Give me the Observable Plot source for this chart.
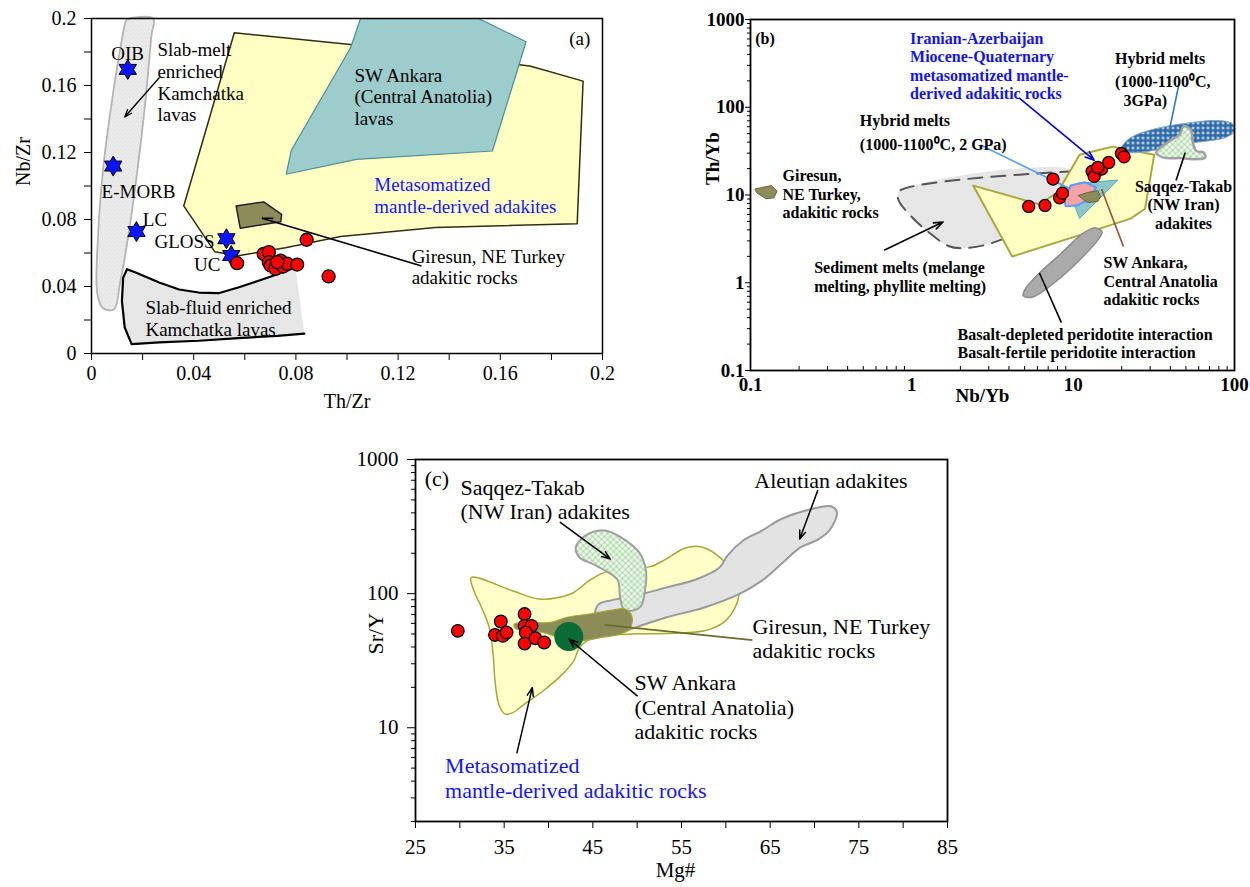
<!DOCTYPE html>
<html><head><meta charset="utf-8">
<script src="https://cdn.jsdelivr.net/npm/d3@7"></script>
<script src="https://cdn.jsdelivr.net/npm/@observablehq/plot@0.6"></script>
<style>
body{margin:0;background:#fff;}
#wrap{position:relative;width:1250px;height:887px;overflow:hidden;background:#fff;}
.panel{position:absolute;}
.panel svg{max-width:none !important;}
.panel svg text{font-family:'Liberation Serif','Times New Roman',Times,serif;}
</style></head>
<body><div id="wrap"></div>
<script>
// ================= Panel (a): Nb/Zr vs Th/Zr =================
const aXTicks = [0,0.02,0.04,0.06,0.08,0.1,0.12,0.14,0.16,0.18,0.2];
const aXTickLabels = ["0","","0.04","","0.08","","0.12","","0.16","","0.2"];
const aYTicks = [0,0.02,0.04,0.06,0.08,0.1,0.12,0.14,0.16,0.18,0.2];
const aYTickLabels = ["0","","0.04","","0.08","","0.12","","0.16","","0.2"];

const aSlabMeltX = [0.0139,0.0242,0.0235,0.0211,0.0181,0.0145,0.0111,0.0088,0.0046,0.0023,0.0026,0.0046,0.0080,0.0111,0.0134];
const aSlabMeltY = [0.1994,0.2,0.1905,0.1507,0.1109,0.0712,0.0414,0.0264,0.0270,0.0354,0.0712,0.1109,0.1507,0.1805,0.1984];
const aSlabFluidX = [0.0798,0.0728,0.0651,0.0574,0.0497,0.0420,0.0343,0.0265,0.0173,0.0139,0.0124,0.0119,0.0130,0.0157,0.0265,0.0420,0.0574,0.0728,0.0833];
const aSlabFluidY = [0.0513,0.0473,0.0433,0.0394,0.0360,0.0364,0.0382,0.0424,0.0483,0.0503,0.0453,0.0314,0.0155,0.0056,0.0066,0.0076,0.0092,0.0105,0.0119];
const aMetaX = [0.0559,0.1014,0.1716,0.1924,0.1901,0.1346,0.0975,0.0759,0.0574,0.0482,0.0361];
const aMetaY = [0.1915,0.1845,0.1716,0.1626,0.0775,0.0752,0.0698,0.0632,0.0583,0.0608,0.0881];
const aAnkaraX = [0.1053,0.1515,0.1701,0.1569,0.1037,0.0762,0.0782,0.1014];
const aAnkaraY = [0.2,0.2,0.1861,0.1209,0.1159,0.1070,0.1213,0.1825];
const aGiresunX = [0.0566,0.0674,0.0744,0.0741,0.0582];
const aGiresunY = [0.0881,0.0905,0.0831,0.0787,0.0748];
const aStarNames = ["OIB","E-MORB","LC","GLOSS","UC"];
const aStarX = [0.0142,0.0085,0.0176,0.0528,0.0547];
const aStarY = [0.1696,0.1119,0.0728,0.0685,0.0585];
const aSampleX = [0.0570,0.0674,0.0694,0.0694,0.0701,0.0720,0.0740,0.0750,0.0766,0.0805,0.0727,0.0842,0.0928];
const aSampleY = [0.0539,0.0595,0.0605,0.0545,0.0525,0.0506,0.0555,0.0519,0.0536,0.0531,0.0545,0.0679,0.0460];
const aLeaders = [{x1:0.0667,y1:0.0807,x2:0.1292,y2:0.0523},{x1:0.0667,y1:0.0807,x2:0.0712,y2:0.0807}];
const aArrows = [{x1:0.0265,y1:0.1646,x2:0.0130,y2:0.1412}];
const aNotes = [
 {t:"OIB", x:0.0141, y:0.1795, anchor:"middle"},
 {t:"Slab-melt\nenriched\nKamchatka\nlavas", x:0.0258, y:0.1621, anchor:"start"},
 {t:"E-MORB", x:0.0184, y:0.0970, anchor:"middle"},
 {t:"LC", x:0.0201, y:0.0801, anchor:"start"},
 {t:"GLOSS", x:0.0482, y:0.0672, anchor:"end"},
 {t:"UC", x:0.0505, y:0.0533, anchor:"end"},
 {t:"Slab-fluid enriched\nKamchatka lavas", x:0.0211, y:0.0210, anchor:"start"},
 {t:"SW Ankara\n(Central Anatolia)\nlavas", x:0.1029, y:0.1535, anchor:"start"},
 {t:"Metasomatized\nmantle-derived adakites", x:0.1107, y:0.0945, anchor:"start", color:"#1414ff"},
 {t:"Giresun, NE Turkey\nadakitic rocks", x:0.1253, y:0.0520, anchor:"start"},
 {t:"(a)", x:0.1870, y:0.1881, anchor:"start"}
];

// ================= Panel (b): Th/Yb vs Nb/Yb =================
const bXTicks = [0.1,1,10,100];
const bYTicks = [0.1,1,10,100,1000];
const bGirLeftX = [0.107,0.135,0.146,0.140,0.125,0.110];
const bGirLeftY = [11.74,12.80,11.05,9.29,9.05,10.49];
const bSedX = [0.835,10.14,8.89,8.02,3.87,2.835,2.02,1.685,1.30,1.0,0.826];
const bSedY = [11.05,18.6,9.46,6.13,3.29,2.69,2.47,2.62,3.65,5.62,8.82];
const bSedEdgeX = [10.14,0.835,0.826,1.0,1.30,1.685,2.02,2.835,3.87,8.02];
const bSedEdgeY = [18.6,11.05,8.82,5.62,3.65,2.62,2.47,2.69,3.29,6.13];
const bMetaX = [2.40,6.18,8.02,10.96,17.5,31.8,27.9,22.7,10.96,4.19];
const bMetaY = [12.8,7.81,10.76,28.7,35.6,28.7,6.98,5.38,3.49,1.99];
const bHybridX = [19.93,22.7,31.0,52.2,79.1,97.3,100,87.7,67.7,47.0,34.4,25.2,20.5];
const bHybridY = [34.7,45.0,55.8,66.4,70.6,64.7,53.5,45.0,41.2,37.8,33.2,30.5,31.3];
const bSaqX = [32.7,38.2,45.8,48.3,53.5,55.0,57.9,64.3,65.9,57.9,47.0,36.2];
const bSaqY = [30.5,39.5,49.0,60.9,55.8,41.2,31.8,30.5,26.7,25.6,26.3,26.7];
const bBasaltX = [5.02,4.90,5.57,7.61,10.96,14.2,15.1,13.8,11.5,8.45,6.18];
const bBasaltY = [0.836,0.715,0.684,0.993,1.82,3.06,3.80,4.22,3.65,2.17,1.29];
const bAnkX = [10.7,18.9,10.96,10.1];
const bAnkY = [13.6,14.8,5.4,7.94];
const bPinkX = [8.81,9.62,11.8,13.8,13.1,10.7,9.0];
const bPinkY = [8.81,12.8,14.0,12.3,9.46,7.62,7.42];
const bGirX = [10.8,12.3,14.2,14.8,14.2,12.3];
const bGirY = [9.87,10.7,11.2,9.6,8.43,8.22];
const bSampleX = [5.30,6.69,7.50,8.24,8.59,13.1,13.5,15.0,16.6,19.9,20.7,14.2];
const bSampleY = [7.41,7.60,15.2,9.29,10.5,18.6,16.3,19.7,23.5,29.7,27.2,20.6];
const bLinks = [
 {x1:2.66,y1:37.2,x2:9.62,y2:11.7,c:"#5a9cff"},
 {x1:45.8,y1:205,x2:39.2,y2:51.2,c:"#3a78b5"},
 {x1:43.4,y1:14.6,x2:49.5,y2:30.5,c:"black"},
 {x1:20.5,y1:2.58,x2:15.0,y2:11.7,c:"#a0522d"},
 {x1:8.45,y1:0.351,x2:6.18,y2:1.29,c:"black"}
];
const bArrows = [
 {x1:4.64,y1:127,x2:13.5,y2:24.9,c:"#0000dd"},
 {x1:0.678,y1:2.36,x2:1.56,y2:4.93,c:"black"}
];
const bNotes = [
 {t:"(b)", x:0.107, y:615, anchor:"start"},
 {t:"Iranian-Azerbaijan\nMiocene-Quaternary\nmetasomatized mantle-\nderived adakitic rocks", x:0.975, y:297, anchor:"start", color:"#1414ee"},
 {t:"Hybrid melts", x:18.2, y:360, anchor:"start"},
 {t:"(1000-1100\u2070C,", x:18.2, y:196, anchor:"start"},
 {t:"3GPa)", x:20.5, y:120, anchor:"start"},
 {t:"Hybrid melts", x:0.476, y:71.8, anchor:"start"},
 {t:"(1000-1100\u2070C, 2 GPa)", x:0.476, y:38.5, anchor:"start"},
 {t:"Giresun,\nNE Turkey,\nadakitic rocks", x:0.158, y:10.3, anchor:"start"},
 {t:"Sediment melts (melange\nmelting, phyllite melting)", x:0.248, y:1.18, anchor:"start"},
 {t:"SW Ankara,\nCentral Anatolia\nadakitic rocks", x:15.4, y:1.05, anchor:"start"},
 {t:"Saqqez-Takab\n(NW Iran)\nadakites", x:48.3, y:7.78, anchor:"middle"},
 {t:"Basalt-depleted peridotite interaction\nBasalt-fertile peridotite interaction", x:1.92, y:0.206, anchor:"start"}
];

// ================= Panel (c): Sr/Y vs Mg# =================
const cXTicks = [25,30,35,40,45,50,55,60,65,70,75,80,85];
const cXTickLabels = ["25","","35","","45","","55","","65","","75","","85"];
const cYTicks = [10,100,1000];
const cMetaX = [31.28,35.92,38.95,41.12,42.85,44.58,46.32,48.92,51.52,53.25,55.42,57.15,59.10,60.83,61.48,61.05,59.75,57.58,53.25,48.92,45.02,43.50,42.85,41.55,39.38,37.22,35.92,35.05,34.40,33.97,33.75,33.32,32.45,31.59];
const cMetaY = [132,105,91,93.6,102,125,144,157,159,181,219,224,192,140,102,78.9,61.0,52.8,50.4,49.8,47.0,39.6,31.5,25.0,18.8,14.9,12.9,12.7,14.9,22.3,35.3,55.8,78.9,105];
const cAleutX = [45.23,45.67,47.18,49.78,53.25,56.72,59.32,60.18,61.92,64.08,66.25,69.71,71.88,72.53,71.66,70.15,68.41,66.25,64.08,61.48,57.58,53.25,49.78,48.05,46.32,45.36];
const cAleutY = [70.4,83.5,89.4,96.3,111,128,157,192,248,295,360,428,448,404,295,248,221,166,125,99.1,78.9,66.4,55.8,51.3,52.8,61.0];
const cSaqX = [43.07,44.15,46.32,48.48,50.22,51.0,50.87,50.43,49.35,48.48,48.05,47.83,46.75,45.02,43.50];
const cSaqY = [221,271,295,255,203,148,105,81.1,74.4,76.6,96.3,125,144,166,186];
const cGirX = [36.14,37.65,40.25,41.98,44.58,47.18,48.70,49.44,49.13,48.05,45.88,43.72,41.55,39.38,37.65,36.27];
const cGirY = [59.2,61.0,61.0,66.4,70.4,75.3,76.6,66.4,54.3,49.8,47.0,44.4,46.5,51.3,52.8,55.2];
const cAnkaraMg = [42.29];
const cAnkaraSrY = [47.9];
const cSampleX = [29.77,34.62,33.97,34.84,35.27,37.30,37.30,38.08,37.43,37.30,38.52,39.51];
const cSampleY = [52.8,62.0,49.2,48.4,51.3,70.4,57.5,57.5,51.3,42.4,46.5,43.2];
const cArrows = [
 {x1:41.33,y1:340,x2:46.97,y2:181},
 {x1:70.36,y1:586,x2:68.33,y2:255},
 {x1:50.0,y1:17.3,x2:42.33,y2:45.7},
 {x1:36.44,y1:6.50,x2:38.17,y2:19.9}
];
const cLinks = [{x1:63.0,y1:45.0,x2:46.32,y2:58.5}];
const cNotes = [
 {t:"(c)", x:26.04, y:730, anchor:"start"},
 {t:"Saqqez-Takab\n(NW Iran) adakites", x:30.07, y:504, anchor:"start"},
 {t:"Aleutian adakites", x:63.21, y:696, anchor:"start"},
 {t:"Giresun, NE Turkey\nadakitic rocks", x:63.0, y:46.4, anchor:"start"},
 {t:"SW Ankara\n(Central Anatolia)\nadakitic rocks", x:49.70, y:14.3, anchor:"start"},
 {t:"Metasomatized\nmantle-derived adakitic rocks", x:28.34, y:4.25, anchor:"start", color:"#1414ff"}
];

// ================= helpers =================
const SERIF = "'Liberation Serif','Times New Roman',Times,serif";
const pts = (X, Y) => X.map((x, i) => ({x, y: Y[i]}));
const shape = (X, Y, o) => Plot.line(pts(X, Y), {x: "x", y: "y", curve: "linear-closed", strokeWidth: 1.5, ...o});
const fmt = (ticks, labels) => { const m = new Map(ticks.map((t, i) => [t, labels[i]])); return d => m.get(d) ?? ""; };
function labelMarks(list, base) {
  return d3.groups(list, d => d.anchor + "|" + (d.color || "black")).map(([, arr]) =>
    Plot.text(arr, {x: "x", y: "y", text: "t", textAnchor: arr[0].anchor, lineAnchor: "middle", fill: arr[0].color || "black", fontFamily: SERIF, ...base}));
}
function minorLog(decades, lo, hi) {
  const out = [];
  decades.forEach(e => { for (let k = 2; k <= 9; k++) { const v = +(e * k).toPrecision(3); if (v >= lo && v <= hi) out.push(v); } });
  return out;
}
const hexagram = {draw(ctx, size) {
  const r = Math.sqrt(size / Math.PI), ri = r / Math.sqrt(3);
  for (let i = 0; i < 12; i++) {
    const a = Math.PI / 6 * i - Math.PI / 2, rr = i % 2 ? ri : r;
    const px = rr * Math.cos(a), py = rr * Math.sin(a);
    i ? ctx.lineTo(px, py) : ctx.moveTo(px, py);
  }
  ctx.closePath();
}};
function mount(svg, left, top, w, defs) {
  if (defs) svg.insertAdjacentHTML("afterbegin", `<defs>${defs}</defs>`);
  const d = document.createElement("div");
  d.className = "panel"; d.style.left = left + "px"; d.style.top = top + "px"; d.style.width = w + "px";
  d.appendChild(svg); document.getElementById("wrap").appendChild(d);
}
const baseStyle = (fs, extra = "") => `font-family:${SERIF};font-size:${fs}px;color:black;background:transparent;overflow:visible;${extra}`;

// ================= draw (a) =================
const plotA = Plot.plot({
  width: 620, height: 420, marginLeft: 91, marginRight: 18, marginTop: 18, marginBottom: 67,
  x: {domain: [0, 0.2]}, y: {domain: [0, 0.2]},
  style: baseStyle(19),
  marks: [
    shape(aSlabMeltX, aSlabMeltY, {fill: "url(#aDots)", stroke: "#b4b4b4", strokeWidth: 1.8, curve: "catmull-rom-closed"}),
    shape(aSlabFluidX, aSlabFluidY, {fill: "#e6e6e6", stroke: "none"}),
    Plot.line(pts(aSlabFluidX, aSlabFluidY), {x: "x", y: "y", stroke: "black", strokeWidth: 2.2}),
    shape(aMetaX, aMetaY, {fill: "#ffffc4", stroke: "#2f2f10", strokeWidth: 1.5}),
    shape(aAnkaraX, aAnkaraY, {fill: "#9ccccc", stroke: "#4d8f94", strokeWidth: 1.2}),
    shape(aGiresunX, aGiresunY, {fill: "#8c8c5a", stroke: "#222", strokeWidth: 1.5}),
    Plot.link(aLeaders, {x1: "x1", y1: "y1", x2: "x2", y2: "y2", stroke: "black", strokeWidth: 1.6}),
    Plot.arrow(aArrows, {x1: "x1", y1: "y1", x2: "x2", y2: "y2", stroke: "black", strokeWidth: 1.3, headLength: 9, headAngle: 40}),
    Plot.dot(aStarNames.map((n, i) => ({n, x: aStarX[i], y: aStarY[i]})), {x: "x", y: "y", symbol: hexagram, r: 10, fill: "#0a14ff", stroke: "black", strokeWidth: 1}),
    Plot.dot(pts(aSampleX, aSampleY), {x: "x", y: "y", r: 6.5, fill: "#ff0000", stroke: "black", strokeWidth: 1.3}),
    ...labelMarks(aNotes, {lineHeight: 1.14}),
    Plot.axisX({ticks: aXTicks, tickSize: 7, tickPadding: 5, tickFormat: fmt(aXTicks, aXTickLabels), label: null, fontSize: 20, fontFamily: SERIF, fontVariant: "normal"}),
    Plot.axisY({ticks: aYTicks, tickSize: 7, tickPadding: 8, tickFormat: fmt(aYTicks, aYTickLabels), label: null, fontSize: 20, fontFamily: SERIF, fontVariant: "normal"}),
    Plot.text(["Th/Zr"], {frameAnchor: "bottom", dy: 54, text: d => d, fontSize: 20, fontFamily: SERIF}),
    Plot.text(["Nb/Zr"], {frameAnchor: "left", dx: -68, rotate: -90, text: d => d, fontSize: 20, fontFamily: SERIF}),
    Plot.frame({stroke: "black", strokeWidth: 1.5})
  ]
});
mount(plotA, 0, 0, 620, `<pattern id="aDots" width="4" height="4" patternUnits="userSpaceOnUse"><rect width="4" height="4" fill="#efefef"/><circle cx="1" cy="1" r="0.8" fill="#cdcdcd"/><circle cx="3" cy="3" r="0.8" fill="#d8d8d8"/></pattern>`);

// ================= draw (b) =================
const bPlotH = 420 - 19 - 50;
const plotB = Plot.plot({
  width: 570, height: 420, marginLeft: 70, marginRight: 16, marginTop: 19, marginBottom: 50,
  x: {type: "log", domain: [0.1, 100]}, y: {type: "log", domain: [0.1, 1000]},
  style: baseStyle(16, "font-weight:bold;"),
  marks: [
    shape(bSedX, bSedY, {fill: "#e6e6e6", stroke: "none", curve: "catmull-rom-closed"}),
    Plot.line(pts(bSedEdgeX, bSedEdgeY), {x: "x", y: "y", stroke: "#555", strokeWidth: 2, strokeDasharray: "14,9", curve: "catmull-rom"}),
    shape(bMetaX, bMetaY, {fill: "#ffffc4", stroke: "#a8a840", strokeWidth: 2}),
    shape(bBasaltX, bBasaltY, {fill: "#aaaaaa", stroke: "#8c8c8c", curve: "catmull-rom-closed"}),
    shape(bHybridX, bHybridY, {fill: "url(#bDots)", stroke: "#7fa7c9", strokeWidth: 1, curve: "catmull-rom-closed"}),
    shape(bSaqX, bSaqY, {fill: "url(#bHatch)", stroke: "#a0a0a0", strokeWidth: 2.5, curve: "catmull-rom-closed"}),
    shape(bAnkX, bAnkY, {fill: "#8cc6c8", stroke: "#5aa9c0", strokeWidth: 1}),
    shape(bPinkX, bPinkY, {fill: "#f5a3a8", stroke: "#5b9bff", strokeWidth: 2}),
    shape(bGirX, bGirY, {fill: "#8c8c5a", stroke: "#666640", strokeWidth: 1}),
    shape(bGirLeftX, bGirLeftY, {fill: "#8c8c5a", stroke: "#666640", strokeWidth: 1}),
    ...bLinks.map(l => Plot.link([l], {x1: "x1", y1: "y1", x2: "x2", y2: "y2", stroke: l.c, strokeWidth: 1.6})),
    ...bArrows.map(l => Plot.arrow([l], {x1: "x1", y1: "y1", x2: "x2", y2: "y2", stroke: l.c, strokeWidth: 1.6, headLength: 9, headAngle: 40})),
    Plot.dot(pts(bSampleX, bSampleY), {x: "x", y: "y", r: 6, fill: "#ff0000", stroke: "black", strokeWidth: 1.3}),
    ...labelMarks(bNotes, {lineHeight: 1.15, fontWeight: "bold"}),
    Plot.tickX(minorLog([0.1, 1, 10], 0.1, 100), {x: d => d, insetTop: bPlotH - 4, stroke: "black"}),
    Plot.axisX({ticks: bXTicks, tickSize: 0, tickPadding: 7, tickFormat: d => String(d), label: null, fontSize: 19, fontWeight: "bold", fontFamily: SERIF, fontVariant: "normal"}),
    Plot.axisY({ticks: minorLog([0.1, 1, 10, 100], 0.1, 1000), tickSize: 3, fill: "none", label: null}),
    Plot.axisY({ticks: bYTicks, tickSize: 5, tickPadding: 1, tickFormat: d => String(d), label: null, fontSize: 19, fontWeight: "bold", fontFamily: SERIF, fontVariant: "normal"}),
    Plot.text(["Nb/Yb"], {frameAnchor: "bottom", dy: 31, dx: -10, text: d => d, fontSize: 19, fontWeight: "bold", fontFamily: SERIF}),
    Plot.text(["Th/Yb"], {frameAnchor: "left", dx: -38, dy: -10, rotate: -90, text: d => d, fontSize: 19, fontWeight: "bold", fontFamily: SERIF}),
    Plot.frame({stroke: "black", strokeWidth: 1.8})
  ]
});
mount(plotB, 680, 0, 570, `<pattern id="bDots" width="5" height="5" patternUnits="userSpaceOnUse"><rect width="5" height="5" fill="#2e6aa6"/><circle cx="2.5" cy="2.5" r="1.3" fill="#e8f0fa"/></pattern><pattern id="bHatch" width="6" height="6" patternUnits="userSpaceOnUse"><rect width="6" height="6" fill="#eef8ea"/><path d="M0,0L6,6M6,0L0,6" stroke="#8cc88c" stroke-width="0.8"/></pattern>`);

// ================= draw (c) =================
const plotC = Plot.plot({
  width: 640, height: 447, marginLeft: 75, marginRight: 33, marginTop: 19, marginBottom: 66,
  x: {domain: [25, 85]}, y: {type: "log", domain: [2, 1000]},
  style: baseStyle(22),
  marks: [
    shape(cMetaX, cMetaY, {fill: "#ffffc8", stroke: "#a6a63a", strokeWidth: 1.5, curve: "catmull-rom-closed"}),
    shape(cAleutX, cAleutY, {fill: "#e3e3e3", stroke: "#9a9a9a", strokeWidth: 2, curve: "catmull-rom-closed"}),
    shape(cSaqX, cSaqY, {fill: "url(#cHatch)", stroke: "#a0a0a0", strokeWidth: 2, curve: "catmull-rom-closed"}),
    shape(cGirX, cGirY, {fill: "#8c8c58", stroke: "#a6a63a", strokeWidth: 1.2, curve: "catmull-rom-closed"}),
    Plot.dot(pts(cAnkaraMg, cAnkaraSrY), {x: "x", y: "y", r: 14.5, fill: "#0b6b36", stroke: "none"}),
    Plot.link(cLinks, {x1: "x1", y1: "y1", x2: "x2", y2: "y2", stroke: "#6b6b30", strokeWidth: 1.6}),
    Plot.arrow(cArrows, {x1: "x1", y1: "y1", x2: "x2", y2: "y2", stroke: "black", strokeWidth: 1.5, headLength: 9, headAngle: 40}),
    Plot.dot(pts(cSampleX, cSampleY), {x: "x", y: "y", r: 6.3, fill: "#ff0000", stroke: "black", strokeWidth: 1.3}),
    ...labelMarks(cNotes, {lineHeight: 1.11}),
    Plot.axisX({ticks: cXTicks, tickSize: 7, tickPadding: 11, tickFormat: fmt(cXTicks, cXTickLabels), label: null, fontSize: 21, fontFamily: SERIF, fontVariant: "normal"}),
    Plot.axisY({ticks: minorLog([1, 10, 100], 2, 1000), tickSize: 4, fill: "none", label: null}),
    Plot.axisY({ticks: cYTicks, tickSize: 8, tickPadding: 9, tickFormat: d => String(d), label: null, fontSize: 21, fontFamily: SERIF, fontVariant: "normal"}),
    Plot.text(["Mg#"], {frameAnchor: "bottom", dy: 55, dx: -6, text: d => d, fontSize: 21, fontFamily: SERIF}),
    Plot.text(["Sr/Y"], {frameAnchor: "left", dx: -40, dy: 14, rotate: -90, text: d => d, fontSize: 22, fontFamily: SERIF}),
    Plot.frame({stroke: "black", strokeWidth: 1.8})
  ]
});
mount(plotC, 340, 440, 640, `<pattern id="cHatch" width="6" height="6" patternUnits="userSpaceOnUse"><rect width="6" height="6" fill="#eef8ea"/><path d="M0,0L6,6M6,0L0,6" stroke="#8cc88c" stroke-width="0.8"/></pattern>`);
</script>
</body></html>
